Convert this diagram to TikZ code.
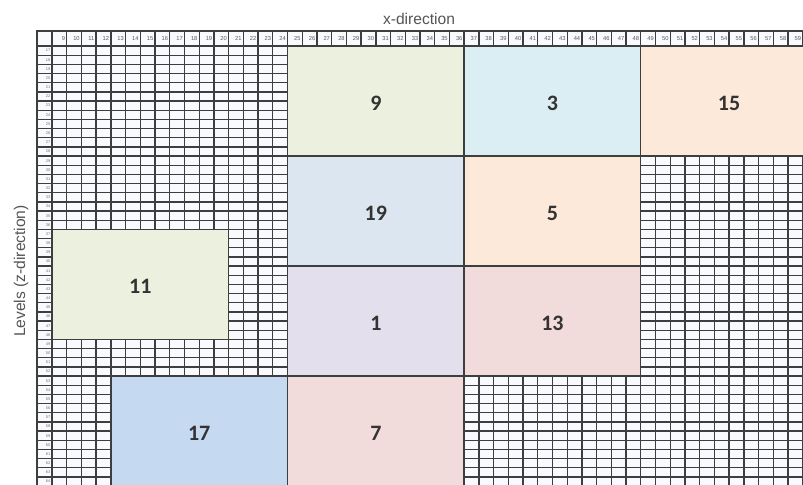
\documentclass[tikz,border=0pt]{standalone}
\usepackage{fontspec}
\setmainfont{Liberation Sans}
\newfontfamily\carlito{Carlito}
\definecolor{gridc}{HTML}{3E3E3E}
\definecolor{txtc}{HTML}{555555}
\definecolor{numc}{HTML}{333333}
\definecolor{cgreen}{HTML}{EBF1DE}
\definecolor{caqua}{HTML}{DAEEF3}
\definecolor{corange}{HTML}{FDE9D9}
\definecolor{cblue}{HTML}{DCE6F1}
\definecolor{cpurple}{HTML}{E4DFEC}
\definecolor{cred}{HTML}{F2DCDB}
\definecolor{cblue2}{HTML}{C5D9F1}
\definecolor{cellbg}{HTML}{F9FAFD}
\tikzset{
  gridline/.style={draw=gridc, line width=1pt},
  borderline/.style={draw=gridc, line width=1.5pt},
  boxline/.style={draw=gridc, line width=1pt},
  num/.style={font=\carlito\bfseries\fontsize{16.5}{16.5}\selectfont, text=numc, inner sep=0pt, yshift=-1.5pt},
  title/.style={font=\fontsize{11.7}{12}\selectfont, text=txtc, inner sep=0pt},
  collab/.style={font=\fontsize{4.3}{4.5}\selectfont, text=black!65, inner sep=0pt, anchor=east},
  rowlab/.style={font=\fontsize{3}{3}\selectfont, text=black!55, inner sep=0pt, anchor=east},
}
\begin{document}
\begin{tikzpicture}[x=0.75pt, y=-0.75pt]
\useasboundingbox (0,0) rectangle (803,485);
\clip (0,0) rectangle (803,485);
\fill[white] (0,0) rectangle (803,485);
\fill[cellbg] (37,31) rectangle (805,490);
% grid
\foreach \k in {0,...,51} \draw[gridline] ({52+\k*14.72},31) -- ({52+\k*14.72},490);
\foreach \k in {0,...,48} \draw[gridline] (37,{46+\k*9.17}) -- (805,{46+\k*9.17});
\draw[borderline] (37,490) -- (37,31) -- (805,31);
% column numbers
\foreach \k [evaluate=\k as \n using int(\k+9)] in {0,...,50}
  \node[collab] (c\n) at ({52+(\k+1)*14.72-1.5},38.8) {\n};
% row numbers
\foreach \k [evaluate=\k as \n using int(\k+17)] in {0,...,47}
  \node[rowlab] (r\n) at (50.5,{46+(\k+0.5)*9.17}) {\n};
% boxes
\draw[boxline, fill=cgreen]  (287.52,46) rectangle node[num] (n9) {9} (464.16,156.04);
\draw[boxline, fill=caqua]   (464.16,46) rectangle node[num] (n3) {3} (640.8,156.04);
\draw[boxline, fill=corange] (640.8,46) rectangle node[num] (n15) {15} (817.44,156.04);
\draw[boxline, fill=cblue]   (287.52,156.04) rectangle node[num] (n19) {19} (464.16,266.08);
\draw[boxline, fill=corange] (464.16,156.04) rectangle node[num] (n5) {5} (640.8,266.08);
\draw[boxline, fill=cpurple] (287.52,266.08) rectangle node[num] (n1) {1} (464.16,376.12);
\draw[boxline, fill=cred]    (464.16,266.08) rectangle node[num] (n13) {13} (640.8,376.12);
\draw[boxline, fill=cred]    (287.52,376.12) rectangle node[num] (n7) {7} (464.16,486.16);
\draw[boxline, fill=cgreen]  (52,229.4) rectangle node[num] (n11) {11} (228.64,339.44);
\draw[boxline, fill=cblue2]  (110.88,376.12) rectangle node[num] (n17) {17} (287.52,486.16);
% titles
\node[title] (xdir) at (419,19) {x-direction};
\node[title, rotate=90] (levels) at (21,271) {Levels (z-direction)};
\end{tikzpicture}
\end{document}
